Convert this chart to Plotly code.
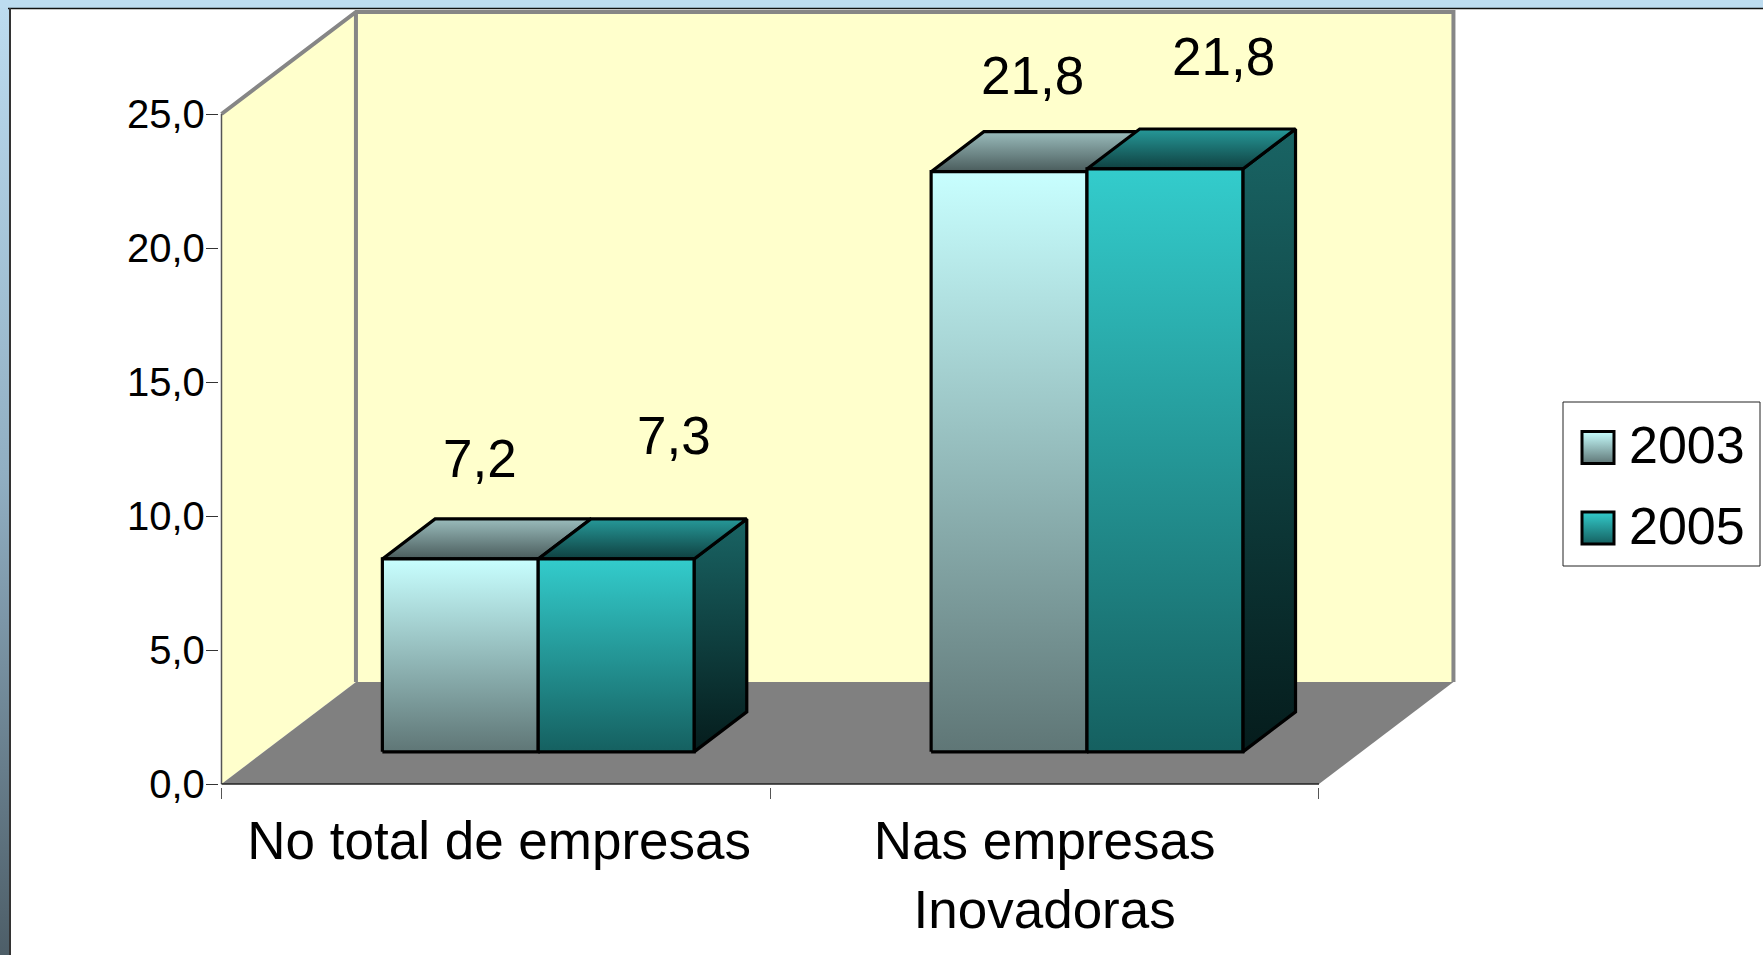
import plotly.graph_objects as go

# ---- data ----
categories = ["No total de empresas", "Nas empresas<br>Inovadoras"]
series_names = ["2003", "2005"]
values_2003 = [7.2, 21.65]
values_2005 = [7.2, 21.75]
labels_2003 = ["7,2", "21,8"]
labels_2005 = ["7,3", "21,8"]
y_ticks = [0, 5, 10, 15, 20, 25]

# ---- style ----
W, H = 1763, 955
FONT = "Liberation Sans"
DX, DY = 0.245, 3.806          # oblique shift of the full chart depth, in axis units
Z0, Z1 = 0.315, 0.707          # depth span of the bars
BAR_W = 0.284
FRONT = [["#c8ffff", "#5f7676"], ["#33cccc", "#156060"]]
TOPF = [["#9abcbc", "#4a5c5c"], ["#269999", "#0f4040"]]
SIDE = [["#5f7676", "#1c2626"], ["#196464", "#051c1c"]]
LABEL_SHIFT = [[(20, 100), (23, 96)], [(58, 123), (59, 112)]]
CAT_TICK_SHIFT = [0.006, 0]

XL, XR, YT = -0.5, 1.5, 25
X_RANGE = [-0.505, 1.76]       # room for the depth of the 3D box
Y_RANGE = [-0.1, 29]
PX_PER_X = (1319 - 221.5) / (XR - XL)
PX_PER_Y = (784 - 114) / YT
X_PX = [221.5 + (X_RANGE[0] - XL) * PX_PER_X, 221.5 + (X_RANGE[1] - XL) * PX_PER_X]
Y_PX = [784 - (Y_RANGE[0]) * PX_PER_Y, 784 - (Y_RANGE[1]) * PX_PER_Y]


def pr(x, y, z):
    return x + z * DX, y + z * DY


def face(pts, grad=None, line=None, lw=3.2, color=None):
    xs, ys = zip(*[pr(*p) for p in pts])
    xs, ys = list(xs) + [xs[0]], list(ys) + [ys[0]]
    kw = dict(x=xs, y=ys, mode="lines", fill="toself", showlegend=False,
              hoverinfo="skip",
              line=dict(color=line or "rgba(0,0,0,0)", width=lw if line else 0, shape="linear"))
    if grad:
        lo, hi = min(ys), max(ys)
        kw["fillgradient"] = dict(type="vertical", start=lo, stop=hi,
                                  colorscale=[[0, grad[1]], [1, grad[0]]])
    else:
        kw["fillcolor"] = color
    return go.Scatter(**kw)


def edge(pts, color="#868686", w=4):
    xs, ys = zip(*[pr(*p) for p in pts])
    return go.Scatter(x=list(xs), y=list(ys), mode="lines", showlegend=False, hoverinfo="skip",
                      line=dict(color=color, width=w))


fig = go.Figure()

# walls and floor
fig.add_trace(face([(XL, 0, 0), (XL, YT, 0), (XL, YT, 1), (XL, 0, 1)], color="#ffffcc"))
fig.add_trace(face([(XL, 0, 1), (XL, YT, 1), (XR, YT, 1), (XR, 0, 1)], color="#ffffcc"))
fig.add_trace(face([(XL, 0, 0), (XR, 0, 0), (XR, 0, 1), (XL, 0, 1)], color="#808080"))
fig.add_trace(edge([(XL, YT, 0), (XL, YT, 1), (XR, YT, 1), (XR, 0, 1)]))
fig.add_trace(edge([(XL, YT, 1), (XL, 0, 1)]))
# axis lines
fig.add_trace(edge([(XL, 0, 0), (XL, YT, 0)], color="#555555", w=1.5))
fig.add_trace(edge([(XL, 0, 0), (XR, 0, 0)], color="#222222", w=1.5))

# bars
for s, vals in enumerate([values_2003, values_2005]):
    for c, v in enumerate(vals):
        x0 = c + (s - 1) * BAR_W
        x1 = x0 + BAR_W
        fig.add_trace(face([(x1, 0, Z0), (x1, v, Z0), (x1, v, Z1), (x1, 0, Z1)], SIDE[s], "#000000"))
        fig.add_trace(face([(x0, v, Z0), (x1, v, Z0), (x1, v, Z1), (x0, v, Z1)], TOPF[s], "#000000"))
        fig.add_trace(face([(x0, 0, Z0), (x1, 0, Z0), (x1, v, Z0), (x0, v, Z0)], FRONT[s], "#000000"))

# data labels
annots = []
for s, (vals, labs) in enumerate([(values_2003, labels_2003), (values_2005, labels_2005)]):
    for c, (v, t) in enumerate(zip(vals, labs)):
        px, py = pr(c + (s - 0.5) * BAR_W, v, Z0)
        annots.append(dict(x=px, y=py, xref="x", yref="y", text=t, showarrow=False,
                           xanchor="center", yanchor="middle",
                           xshift=LABEL_SHIFT[s][c][0], yshift=LABEL_SHIFT[s][c][1],
                           font=dict(family=FONT, size=53, color="#000000")))


# slide background and legend, on a pixel-scaled second subplot covering the page
def over(**kw):
    return go.Scatter(xaxis="x2", yaxis="y2", showlegend=False, hoverinfo="skip", **kw)


fig.add_trace(over(x=[0, 9, 9, 0, 0], y=[0, 0, H, H, 0], mode="lines", fill="toself",
                   line=dict(width=0, color="rgba(0,0,0,0)"),
                   fillgradient=dict(type="vertical", start=0, stop=H,
                                     colorscale=[[0, "#bddcf0"], [0.5, "#90aec2"], [1, "#4d5e68"]])))
fig.add_trace(over(x=[0, W, W, 0, 0], y=[0, 0, 8, 8, 0], mode="lines", fill="toself",
                   line=dict(width=0, color="rgba(0,0,0,0)"), fillcolor="#bddcf0"))
for i, name in enumerate(series_names):
    yc = [447.5, 528][i]
    fig.add_trace(over(x=[1598], y=[yc], mode="markers",
                       marker=dict(symbol="square", size=32, color=FRONT[i][0],
                                   gradient=dict(type="vertical", color=FRONT[i][1]),
                                   line=dict(color="#000000", width=3))))
    annots.append(dict(x=1627, y=[445, 526][i], xref="x2", yref="y2", text=name, showarrow=False,
                       xanchor="left", yanchor="middle", font=dict(family=FONT, size=52, color="#000000")))

shapes = [
    dict(type="rect", xref="x2", yref="y2", x0=1563, x1=1760, y0=402, y1=566,
         line=dict(color="#222222", width=1), fillcolor="rgba(255,255,255,0)", layer="above"),
    dict(type="line", xref="x2", yref="y2", x0=8, x1=W, y0=8.5, y1=8.5, line=dict(color="#111111", width=1.5)),
    dict(type="line", xref="x2", yref="y2", x0=10, x1=10, y0=8, y1=H, line=dict(color="#333333", width=2)),
]

fig.update_layout(
    width=W, height=H, margin=dict(l=0, r=0, t=0, b=0), paper_bgcolor="#ffffff", plot_bgcolor="rgba(0,0,0,0)",
    separators=",.", showlegend=False, annotations=annots, shapes=shapes,
    font=dict(family=FONT, color="#000000"),
    xaxis=dict(domain=[X_PX[0] / W, X_PX[1] / W], range=X_RANGE,
               tickvals=[i + d for i, d in enumerate(CAT_TICK_SHIFT)], ticktext=categories,
               ticks="", showgrid=False, zeroline=False, showline=False, automargin=False,
               tickfont=dict(size=53, family=FONT), tickangle=0, ticklabelstandoff=18,
               minor=dict(tickvals=[-0.5, 0.5, 1.5], ticks="outside", ticklen=11, tickcolor="#555555", tickwidth=1)),
    yaxis=dict(domain=[(H - Y_PX[0]) / H, (H - Y_PX[1]) / H], range=Y_RANGE, tickvals=y_ticks, tickformat=".1f",
               ticks="outside", ticklen=12, tickcolor="#333333", showgrid=False, zeroline=False,
               showline=False, automargin=False, ticklabelstandoff=-7,
               tickfont=dict(size=40, family=FONT)),
    xaxis2=dict(domain=[0, 1], range=[0, W], visible=False, anchor="y2"),
    yaxis2=dict(domain=[0, 1], range=[H, 0], visible=False, anchor="x2"),
)

fig.write_html("out.html", config=dict(displayModeBar=False),
               post_script="document.body.style.margin='0';document.documentElement.style.overflow='hidden';")
